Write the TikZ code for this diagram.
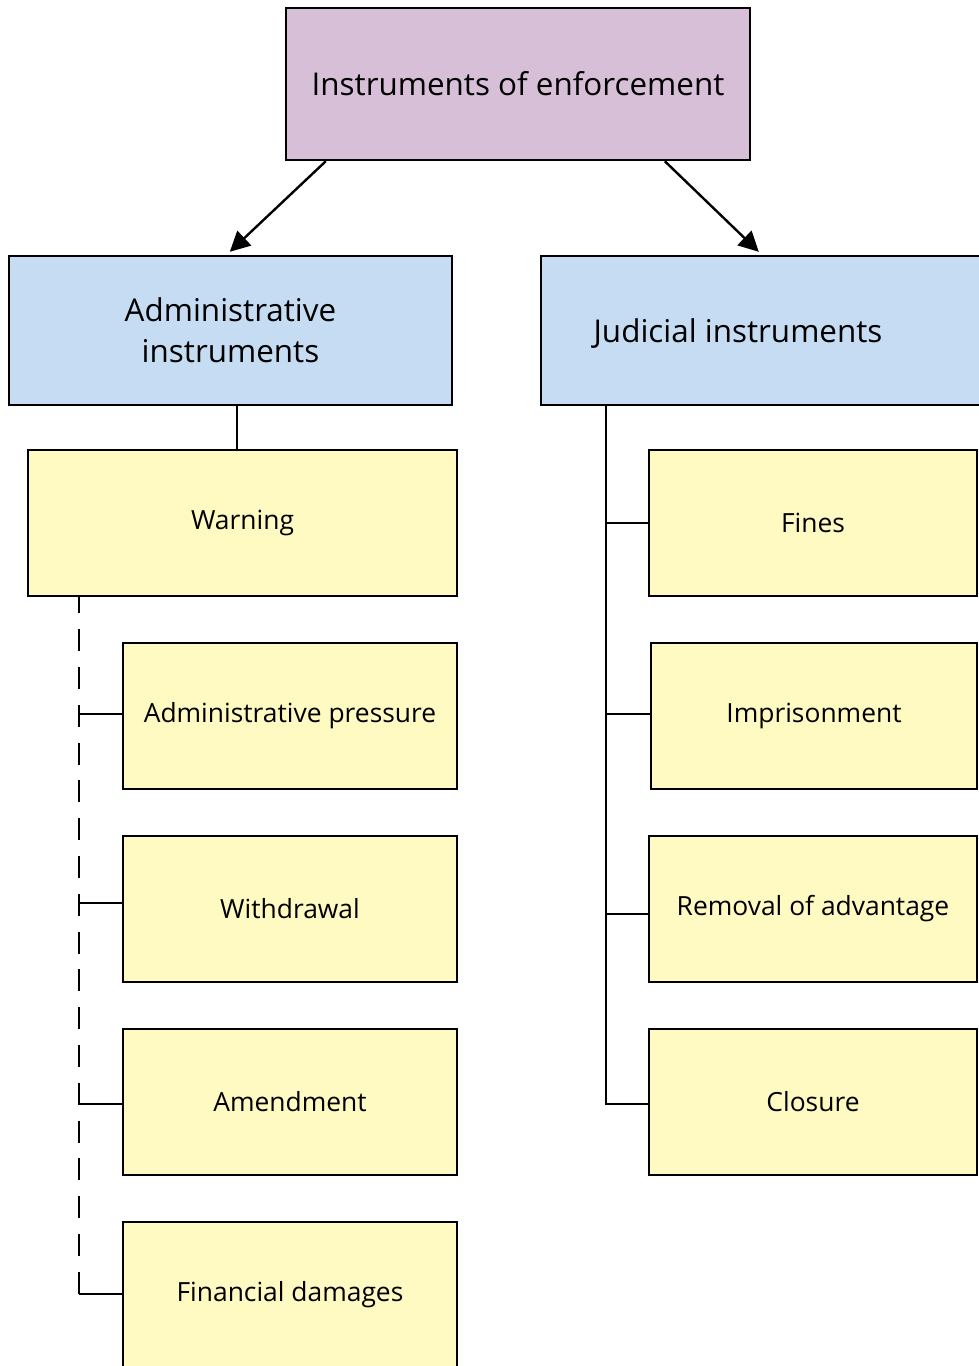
\documentclass[tikz,border=0pt]{standalone}
\usepackage{fontspec}
\setmainfont{Open Sans}
\usetikzlibrary{arrows.meta,calc,backgrounds}
\definecolor{topfill}{RGB}{216,191,216}
\definecolor{midfill}{RGB}{197,220,242}
\definecolor{leaffill}{RGB}{255,250,193}
\begin{document}
\begin{tikzpicture}[x=1pt,y=-1pt,
  box/.style={draw=black,line width=2.4pt,rectangle,inner sep=0pt,anchor=center},
  topbox/.style={box,fill=topfill,minimum width=464pt,minimum height=152pt,
    font=\fontsize{31.4}{36}\selectfont},
  midbox/.style={box,fill=midfill,minimum width=443pt,minimum height=149pt,
    font=\fontsize{31.4}{41}\selectfont,align=center},
  leafbox/.style={box,fill=leaffill,minimum height=146pt,
    font=\fontsize{26.4}{30}\selectfont},
  conn/.style={draw=black,line width=2.4pt},
  arr/.style={conn,-{Triangle[length=20pt,width=20pt]}},
  dashspine/.style={conn,dash pattern=on 22pt off 15.8pt,dash phase=5.8pt}
]
\useasboundingbox (0,0) rectangle (979,1366);
% nodes
\node[topbox] (top) at (518,84) {Instruments of enforcement};
\node[midbox] (admin) at (230.5,330.5) {Administrative\\instruments};
\node[midbox,minimum width=444pt,label={[xshift=-25pt,yshift=-3pt,font=\fontsize{31.4}{36}\selectfont]center:Judicial instruments}] (jud) at (763,330.5) {};
\node[leafbox,minimum width=429pt] (warn) at (242.5,523) {Warning};
\node[leafbox,minimum width=334pt] (ap) at (290,716) {Administrative pressure};
\node[leafbox,minimum width=334pt] (wd) at (290,909) {Withdrawal};
\node[leafbox,minimum width=334pt] (am) at (290,1102) {Amendment};
\node[leafbox,minimum width=334pt] (fd) at (290,1295) {Financial damages};
\node[leafbox,minimum width=328pt] (fines) at (813,523) {Fines};
\node[leafbox,minimum width=326pt] (imp) at (814,716) {Imprisonment};
\node[leafbox,minimum width=328pt] (rem) at (813,909) {Removal of advantage};
\node[leafbox,minimum width=328pt] (clo) at (813,1102) {Closure};
\coordinate (ls) at (79,0);
\coordinate (rs) at (606,0);
\begin{pgfonlayer}{background}
\fill[white] (0,0) rectangle (979,1366);
% arrows
\draw[arr] ($(top.south west)+(41,0)$) -- ($(admin.north west)+(222,-3)$);
\draw[arr] ($(top.south west)+(380,0)$) -- ($(jud.north west)+(219,-3)$);
% admin to warning
\draw[conn] ($(admin.south west)+(229,0)$) -- ($(warn.north west)+(210,0)$);
% dashed spine
\draw[dashspine] (warn.south -| ls) -- ($(fd.west -| ls)+(0,-1)$);
\draw[conn] ($(ap.west -| ls)+(0,-2)$) -- ($(ap.west)+(0,-2)$);
\draw[conn] ($(wd.west -| ls)+(0,-6)$) -- ($(wd.west)+(0,-6)$);
\draw[conn] ($(am.west -| ls)+(0,2)$) -- ($(am.west)+(0,2)$);
\draw[conn] ($(fd.west -| ls)+(0,-1)$) -- ($(fd.west)+(0,-1)$);
% solid right spine
\draw[conn] (jud.south -| rs) -- ($(clo.west -| rs)+(0,2)$) -- ($(clo.west)+(0,2)$);
\draw[conn] (fines.west -| rs) -- (fines.west);
\draw[conn] ($(imp.west -| rs)+(0,-2)$) -- ($(imp.west)+(0,-2)$);
\draw[conn] ($(rem.west -| rs)+(0,5)$) -- ($(rem.west)+(0,5)$);
\end{pgfonlayer}
\end{tikzpicture}
\end{document}
